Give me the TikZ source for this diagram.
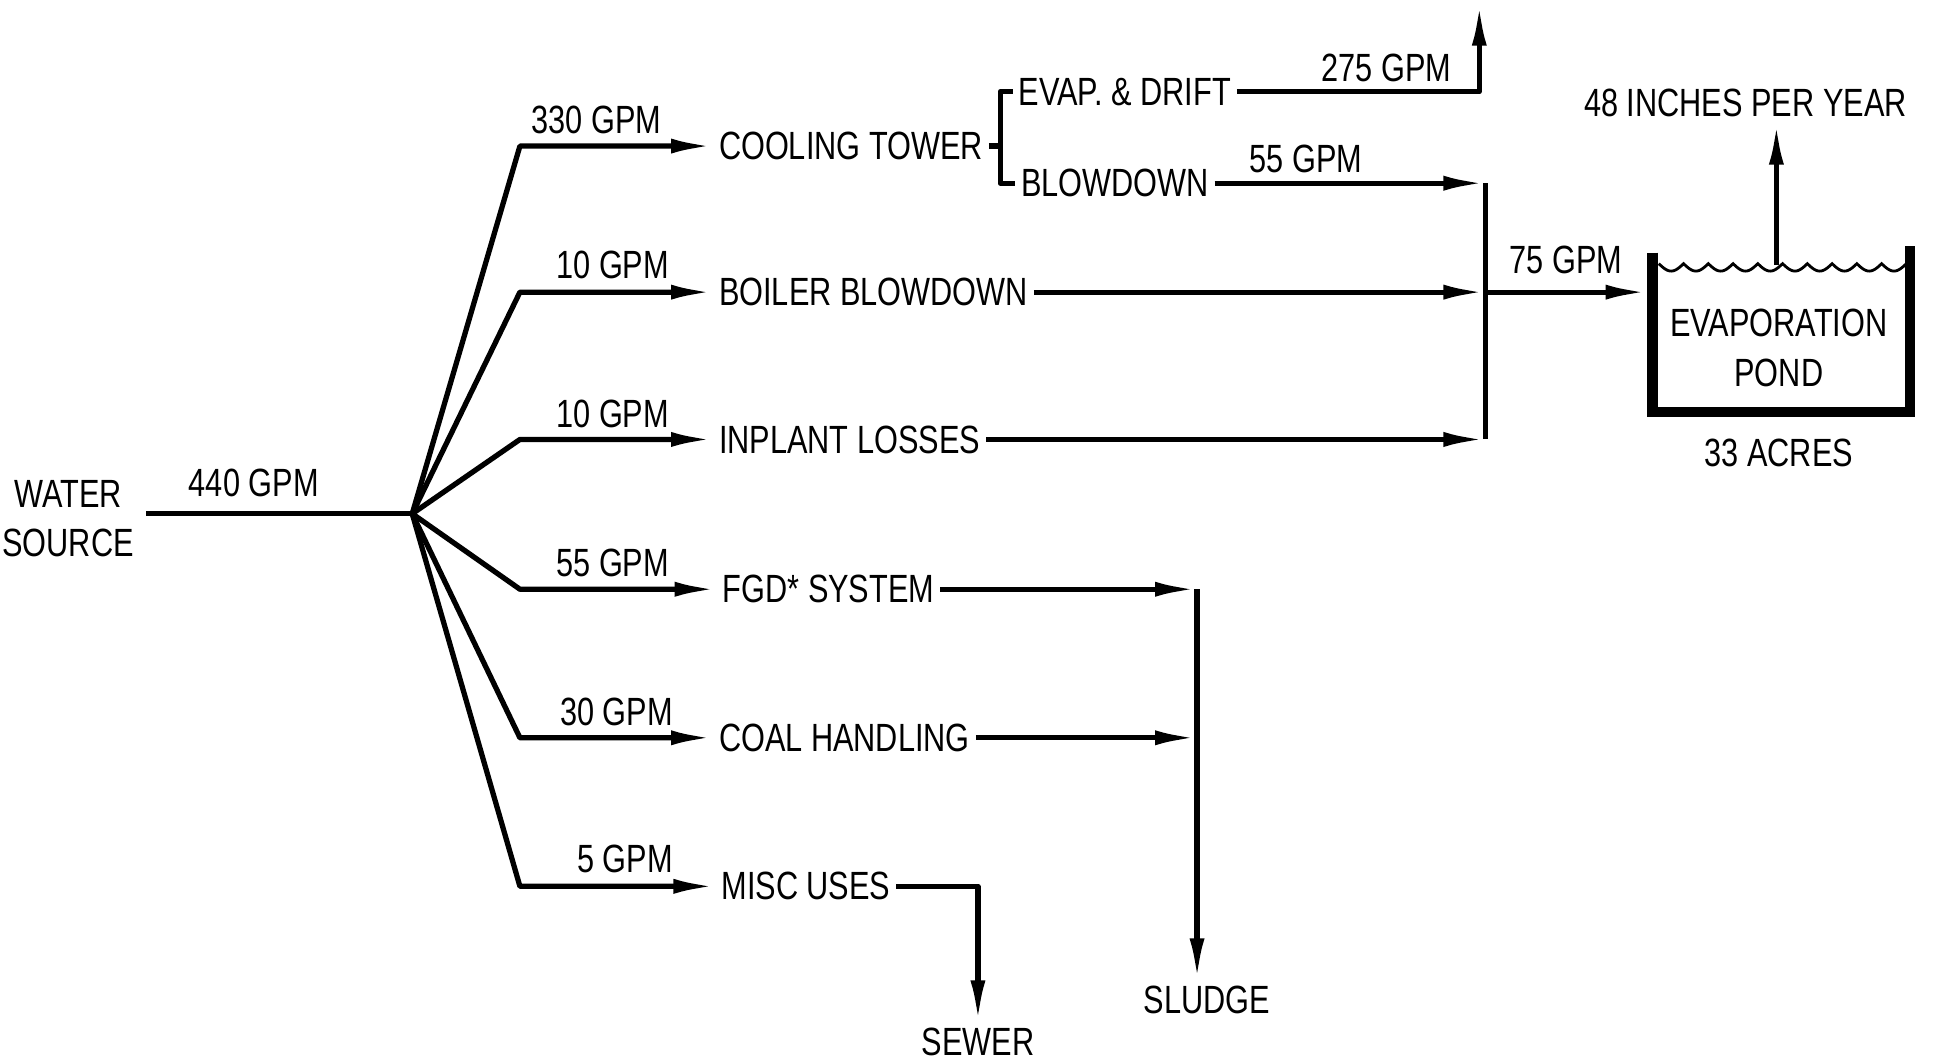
\documentclass[tikz,border=0pt]{standalone}
\usepackage{fontspec}
\setmainfont{Liberation Sans}[FakeStretch=0.78]
\usetikzlibrary{arrows.meta}
\newcommand\lettering{\fontsize{11.2pt}{14pt}\selectfont}

\begin{document}
\begin{tikzpicture}[x=0.012379cm, y=-0.012379cm,
  every node/.style={font=\lettering, inner sep=1.5pt},
  unit/.style={anchor=west},
  pipe/.style={line width=1.5pt, line join=round},
  flow/.style={pipe, -{Latex[length=4.2mm,width=1.5mm]}},
  wall/.style={line width=3pt}]
\useasboundingbox (0,0) rectangle (1568,858);

% source and branch points
\node[align=center] (src) at (55,419) {WATER\\SOURCE};
\coordinate (inlet) at (118,415);
\coordinate (hub) at (333,415);
\coordinate (knee) at (420,0);
\node (q440) at (205,390) {440 GPM};

\node[unit] (ct) at (576,118) {COOLING TOWER};
\node[unit] (bb) at (576,236) {BOILER BLOWDOWN};
\node[unit] (il) at (576,355) {INPLANT LOSSES};
\node[unit] (fgd) at (579,476) {FGD* SYSTEM};
\node[unit] (coal) at (576,596) {COAL HANDLING};
\node[unit] (misc) at (578,716) {MISC USES};

\node (q330) at (482,97) {330 GPM};
\node (q10a) at (495,214) {10 GPM};
\node (q10b) at (495,334) {10 GPM};
\node (q55a) at (495,455) {55 GPM};
\node (q30) at (498,575) {30 GPM};
\node (q5) at (505,694) {5 GPM};

\draw[pipe] (inlet) -- (hub);
\foreach \n in {ct,bb,il,fgd,coal,misc}
  \draw[flow] (hub) -- (\n.west -| knee) -- (\n.west);

% cooling tower split
\coordinate (brk) at (808,118);
\node[unit] (evap) at (818,74) {EVAP. \& DRIFT};
\node[unit] (blow) at (820,148) {BLOWDOWN};
\draw[pipe] (ct.east) -- (brk);
\draw[pipe] (evap.west) -| (brk) |- (blow.west);
\coordinate (evtop) at (1195,3);
\draw[flow] (evap.east) -| (evtop);
\node (q275) at (1120,55) {275 GPM};

% collector to pond
\coordinate (cA) at (1200,148);
\coordinate (cB) at (1200,236);
\coordinate (cC) at (1200,355);
\draw[flow] (blow.east) -- (cA);
\node (q55b) at (1055,128) {55 GPM};
\draw[flow] (bb.east) -- (cB);
\draw[flow] (il.east) -- (cC);
\draw[pipe] (cA) -- (cC);
\coordinate (pin) at (1331,236);
\draw[flow] (cB) -- (pin);
\node (q75) at (1265,210) {75 GPM};

% pond
\draw[wall] (1335,204) -- (1335,333) -- (1543,333) -- (1543,199);
\draw[line width=0.8pt] plot[domain=0:200, samples=201] ({1340+\x}, {213+6*abs(sin(\x*9))});
\node[align=center] (pond) at (1437,281) {EVAPORATION\\POND};
\node (acres) at (1437,366) {33 ACRES};
\coordinate (surf) at (1435,214);
\node (inch) at (1410,83) {48 INCHES PER YEAR};
\draw[flow] (surf) -- (surf |- inch.south);

% sludge and sewer
\coordinate (sA) at (967,476);
\coordinate (sB) at (967,596);
\node (sludge) at (975,808) {SLUDGE};
\draw[flow] (fgd.east) -- (sA);
\draw[flow] (coal.east) -- (sB);
\draw[flow] (sA) -- (sA |- sludge.north);
\node (sewer) at (790,842) {SEWER};
\draw[flow] (misc.east) -| (sewer.north);
\end{tikzpicture}
\end{document}
